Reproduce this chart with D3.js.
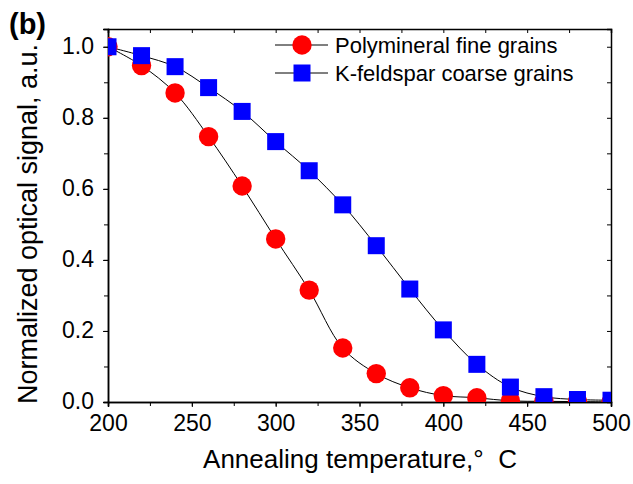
<!DOCTYPE html>
<html>
<head>
<meta charset="utf-8">
<script src="https://cdn.jsdelivr.net/npm/d3@7"></script>
<style>
  body { margin: 0; background: #fff; }
  text { font-family: "Liberation Sans", Arial, sans-serif; fill: #000; }
</style>
</head>
<body>
<svg></svg>
<script>
const temps = [200, 220, 240, 260, 280, 300, 320, 340, 360, 380, 400, 420, 440, 460, 480, 500];
const fineGrains = [1.0, 0.947, 0.870, 0.747, 0.608, 0.459, 0.315, 0.152, 0.080, 0.040, 0.018, 0.012, 0.003, 0.002, 0.001, 0.0];
const coarseGrains = [1.0, 0.975, 0.944, 0.885, 0.818, 0.733, 0.651, 0.555, 0.440, 0.318, 0.203, 0.106, 0.042, 0.015, 0.007, 0.005];
const xTicks = [200, 250, 300, 350, 400, 450, 500];
const yTicks = [0.0, 0.2, 0.4, 0.6, 0.8, 1.0];

const size = {w: 633, h: 484};
const margins = {t: 29, r: 22, b: 82, l: 108};

const svg = d3.select('svg')
    .attr('width', size.w)
    .attr('height', size.h);

const x = d3.scaleLinear().domain([200, 500]).range([margins.l, size.w - margins.r]);
const y = d3.scaleLinear().domain([0, 1.05]).range([size.h - margins.b, margins.t]);

svg.append('clipPath').attr('id', 'plot')
  .append('rect')
    .attr('x', x(200)).attr('y', y(1.05))
    .attr('width', x(500) - x(200)).attr('height', y(0) - y(1.05));

// axes: minor + major ticks outward, mirrored ticks on top/right
svg.append('g').attr('transform', `translate(0,${y(0)})`)
    .call(d3.axisBottom(x).tickValues(d3.range(200, 501, 25)).tickSize(4).tickFormat(''));
svg.append('g').attr('transform', `translate(0,${y(0)})`)
    .call(d3.axisBottom(x).tickValues(xTicks).tickSize(5).tickPadding(8).tickFormat(d3.format('d')))
    .call(g => g.selectAll('text').style('font-size', '23px'));

svg.append('g').attr('transform', `translate(${x(200)},0)`)
    .call(d3.axisLeft(y).tickValues(d3.range(0, 1.01, 0.1)).tickSize(4).tickFormat(''));
svg.append('g').attr('transform', `translate(${x(200)},0)`)
    .call(d3.axisLeft(y).tickValues(yTicks).tickSize(5).tickPadding(9).tickFormat(d3.format('.1f')))
    .call(g => g.selectAll('text').style('font-size', '23px').attr('dy', '0.28em'));

svg.append('g').attr('transform', `translate(0,${y(1.05)})`)
    .call(d3.axisBottom(x).tickValues(d3.range(200, 501, 25)).tickSize(4).tickFormat(''));
svg.append('g').attr('transform', `translate(${x(500)},0)`)
    .call(d3.axisLeft(y).tickValues(d3.range(0, 1.01, 0.1)).tickSize(4).tickFormat(''));

svg.selectAll('.domain').attr('stroke', '#000').attr('stroke-width', 1.5);
svg.selectAll('.tick line').attr('stroke', '#000');

// series
const plot = svg.append('g').attr('clip-path', 'url(#plot)');
const line = d3.line().curve(d3.curveCatmullRom)
    .x((d, i) => x(temps[i])).y(d => y(d));

plot.append('path').datum(fineGrains)
    .attr('d', line).attr('fill', 'none').attr('stroke', '#000').attr('stroke-width', 1);
plot.append('path').datum(coarseGrains)
    .attr('d', line).attr('fill', 'none').attr('stroke', '#000').attr('stroke-width', 1);

plot.selectAll('circle.fine').data(fineGrains).join('circle')
    .attr('class', 'fine')
    .attr('cx', (d, i) => x(temps[i])).attr('cy', d => y(d))
    .attr('r', 9.7).attr('fill', '#ff0000');

plot.selectAll('rect.coarse').data(coarseGrains).join('rect')
    .attr('class', 'coarse')
    .attr('x', (d, i) => x(temps[i]) - 8.5).attr('y', d => y(d) - 8.5)
    .attr('width', 17).attr('height', 17).attr('fill', '#0000ff');

// legend
const legend = svg.append('g');
legend.append('line').attr('x1', 275).attr('x2', 328).attr('y1', 45).attr('y2', 45).attr('stroke', '#000');
legend.append('circle').attr('cx', 302).attr('cy', 45).attr('r', 9.7).attr('fill', '#ff0000');
legend.append('text').attr('x', 335).attr('y', 53).style('font-size', '22px').text('Polymineral fine grains');
legend.append('line').attr('x1', 275).attr('x2', 328).attr('y1', 73).attr('y2', 73).attr('stroke', '#000');
legend.append('rect').attr('x', 293.5).attr('y', 64.5).attr('width', 17).attr('height', 17).attr('fill', '#0000ff');
legend.append('text').attr('x', 335).attr('y', 81).style('font-size', '22px').text('K-feldspar coarse grains');

// labels
svg.append('text')
    .attr('x', 360).attr('y', 468)
    .attr('text-anchor', 'middle').style('font-size', '26px')
    .style('white-space', 'pre')
    .text('Annealing temperature,°  C');

svg.append('text')
    .attr('transform', `translate(37,224) rotate(-90)`)
    .attr('text-anchor', 'middle').style('font-size', '27px')
    .text('Normalized optical signal, a.u.');

svg.append('text')
    .attr('x', 9).attr('y', 34)
    .style('font-size', '29px').style('font-weight', 'bold')
    .text('(b)');
</script>
</body>
</html>
